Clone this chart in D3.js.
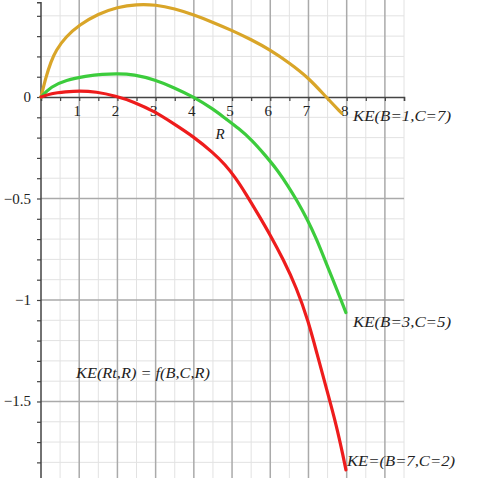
<!DOCTYPE html>
<html><head><meta charset="utf-8">
<script src="https://cdn.jsdelivr.net/npm/d3@7"></script>
<style>body{margin:0;background:#fff}svg{display:block}</style>
</head><body>
<script>
// ---- data ----
const orangeR = [0, 0.13, 0.26, 0.39, 0.65, 1.0, 1.5, 2.0, 2.5, 3.0, 3.5, 4.0, 4.5, 5.0, 5.5, 6.0, 6.5, 7.0, 7.46, 7.87];
const orangeKE = [0, 0.10, 0.174, 0.23, 0.297, 0.355, 0.41, 0.443, 0.457, 0.455, 0.435, 0.405, 0.368, 0.328, 0.283, 0.232, 0.168, 0.095, 0.0, -0.08];
const greenR = [0, 0.26, 0.65, 1.18, 1.61, 2.0, 2.42, 3.0, 3.46, 4.0, 4.51, 4.82, 5.17, 5.52, 5.86, 6.21, 6.47, 6.69, 6.98, 7.22, 7.43, 7.65, 7.83, 7.98];
const greenKE = [0, 0.051, 0.084, 0.103, 0.113, 0.115, 0.112, 0.084, 0.048, 0.0, -0.06, -0.105, -0.154, -0.212, -0.285, -0.365, -0.44, -0.507, -0.606, -0.704, -0.803, -0.905, -0.99, -1.062];
const redR = [0, 0.26, 0.65, 1.0, 1.44, 1.96, 2.42, 2.98, 3.46, 3.99, 4.51, 4.82, 5.08, 5.34, 5.69, 6.0, 6.34, 6.69, 7.0, 7.22, 7.48, 7.74, 7.91, 7.98];
const redKE = [0, 0.018, 0.026, 0.031, 0.026, 0.005, -0.023, -0.072, -0.13, -0.195, -0.275, -0.333, -0.395, -0.47, -0.58, -0.68, -0.80, -0.94, -1.107, -1.263, -1.443, -1.624, -1.772, -1.837];
const seriesNames = ["KE(B=1,C=7)", "KE(B=3,C=5)", "KE=(B=7,C=2)"];
const seriesColors = ["#d9a528", "#3ccc3c", "#ee1c1c"];
const xTickLabels = [1, 2, 3, 4, 5, 6, 7, 8];
const yTickLabels = [0, -0.5, -1, -1.5];
const xAxisTitle = "R";
const formulaText = "KE(Rt,R) = f(B,C,R)";

// ---- chart ----
const W = 480, H = 478;
const svg = d3.select("body").append("svg").attr("width", W).attr("height", H);
const x = d3.scaleLinear().domain([0, 9.5]).range([41, 404]);
const y = d3.scaleLinear().domain([0.478, -1.877]).range([0, 478]);
const y0 = y(0);

const g = svg.append("g");
// minor grid
const xMinor = d3.range(0.5, 9.51, 1);
const yMinor = d3.range(-18, 5).map(d => d / 10).filter(d => Math.abs(d*2 - Math.round(d*2)) > 1e-6);
g.selectAll(".vmin").data(xMinor).join("line")
  .attr("x1", d => x(d)).attr("x2", d => x(d)).attr("y1", 0).attr("y2", H)
  .attr("stroke", "#e2e2e2").attr("stroke-width", 1);
g.selectAll(".hmin").data(yMinor).join("line")
  .attr("x1", x(0)).attr("x2", x(9.5)).attr("y1", d => y(d)).attr("y2", d => y(d))
  .attr("stroke", "#e2e2e2").attr("stroke-width", 1);
// major grid
g.selectAll(".vmaj").data(d3.range(1, 10)).join("line")
  .attr("x1", d => x(d)).attr("x2", d => x(d)).attr("y1", 0).attr("y2", H)
  .attr("stroke", "#aaaaaa").attr("stroke-width", 1.5);
g.selectAll(".hmaj").data([-0.5, -1, -1.5]).join("line")
  .attr("x1", x(0)).attr("x2", x(9.5)).attr("y1", d => y(d)).attr("y2", d => y(d))
  .attr("stroke", "#aaaaaa").attr("stroke-width", 1.5);

// axes
const xAxis = d3.axisBottom(x).tickValues(d3.range(0.5, 9.51, 0.5)).tickSize(4).tickFormat("");
svg.append("g").attr("transform", `translate(0,${y0})`).call(xAxis)
  .call(s => s.select(".domain").attr("stroke", "#444").attr("stroke-width", 1.5))
  .call(s => s.selectAll(".tick line").attr("stroke", "#444").attr("stroke-width", 1.2));
const yAxis = d3.axisLeft(y).tickValues(d3.range(-18, 5).map(d => d / 10)).tickSize(4).tickFormat("");
svg.append("g").attr("transform", `translate(${x(0)},0)`).call(yAxis)
  .call(s => s.select(".domain").attr("stroke", "#444").attr("stroke-width", 1.5).attr("d", `M-4,${y(0.465)}H0V${H}`))
  .call(s => s.selectAll(".tick line").attr("stroke", "#444").attr("stroke-width", 1.2));

// tick labels
const font = "'Liberation Serif', 'Times New Roman', serif";
svg.selectAll(".xl").data(xTickLabels).join("text")
  .attr("x", d => x(d) - 2).attr("y", y0 + 19)
  .attr("text-anchor", "middle").attr("font-family", font).attr("font-size", 15).attr("fill", "#222")
  .text(d => d);
svg.selectAll(".yl").data(yTickLabels).join("text")
  .attr("x", 31).attr("y", d => y(d) + 5)
  .attr("text-anchor", "end").attr("font-family", font).attr("font-size", 15).attr("fill", "#222")
  .text(d => d === 0 ? "0" : "\u2212" + String(-d));

// axis title
svg.append("text").attr("x", 220).attr("y", 139).attr("text-anchor", "middle")
  .attr("font-family", font).attr("font-style", "italic").attr("font-size", 15).attr("fill", "#222").text(xAxisTitle);

// curves
const series = [[orangeR, orangeKE], [greenR, greenKE], [redR, redKE]];
const line = d3.line().x(d => x(d[0])).y(d => y(d[1])).curve(d3.curveBasis);
series.forEach((s, i) => {
  const pts = s[0].map((r, j) => [r, s[1][j]]);
  svg.append("path").attr("d", line(pts)).attr("fill", "none")
    .attr("stroke", seriesColors[i]).attr("stroke-width", 3.2).attr("stroke-linecap", "round");
});

// curve labels
const labelPos = [[353, 121], [353, 327], [347, 466]];
seriesNames.forEach((t, i) => {
  svg.append("text").attr("x", labelPos[i][0]).attr("y", labelPos[i][1])
    .attr("font-family", font).attr("font-style", "italic").attr("font-size", 15.5).attr("fill", "#222")
    .attr("textLength", i === 2 ? 108 : 98).attr("lengthAdjust", "spacingAndGlyphs")
    .text(t);
});
svg.append("text").attr("x", 76).attr("y", 378)
  .attr("font-family", font).attr("font-style", "italic").attr("font-size", 15.5).attr("fill", "#222")
  .attr("textLength", 134).attr("lengthAdjust", "spacingAndGlyphs")
  .text(formulaText);
</script>
</body></html>
